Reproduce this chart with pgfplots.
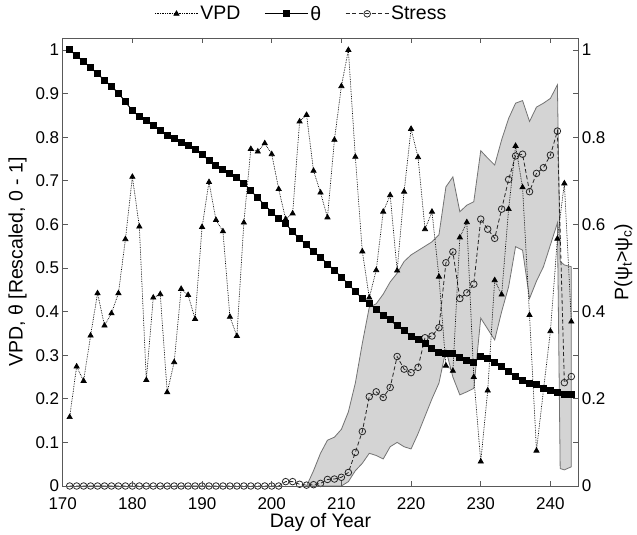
\documentclass[border=0pt]{standalone}
\usepackage{fontspec}
\setmainfont{Liberation Sans}
\usepackage{pgfplots}
\pgfplotsset{compat=1.18}

\pgfplotstableread{
day vpd theta
171 0.158 1.000
172 0.274 0.987
173 0.241 0.973
174 0.345 0.960
175 0.442 0.945
176 0.368 0.931
177 0.396 0.916
178 0.442 0.901
179 0.566 0.881
180 0.709 0.861
181 0.595 0.847
182 0.243 0.839
183 0.432 0.826
184 0.440 0.815
185 0.215 0.803
186 0.284 0.797
187 0.452 0.787
188 0.438 0.780
189 0.383 0.772
190 0.594 0.760
191 0.697 0.747
192 0.610 0.735
193 0.584 0.725
194 0.388 0.717
195 0.344 0.707
196 0.604 0.694
197 0.773 0.677
198 0.767 0.661
199 0.786 0.644
200 0.761 0.628
201 0.681 0.613
202 0.612 0.602
203 0.625 0.583
204 0.836 0.567
205 0.851 0.553
206 0.723 0.537
207 0.673 0.525
208 0.616 0.509
209 0.794 0.495
210 0.917 0.479
211 1.000 0.463
212 0.755 0.446
213 0.538 0.430
214 0.432 0.419
215 0.495 0.405
216 0.629 0.392
217 0.667 0.381
218 0.494 0.367
219 0.675 0.356
220 0.819 0.344
221 0.754 0.336
222 0.589 0.326
223 0.629 0.316
224 0.480 0.306
225 0.276 0.304
226 0.264 0.304
227 0.570 0.294
228 0.605 0.287
229 0.250 0.283
230 0.056 0.298
231 0.219 0.293
232 0.472 0.284
233 0.439 0.274
234 0.635 0.262
235 0.780 0.252
236 0.685 0.243
237 0.392 0.236
238 0.081 0.232
239 0.220 0.224
240 0.355 0.220
241 0.567 0.214
242 0.694 0.209
243 0.377 0.209
}\mainData

\pgfplotstableread{
day stress
171 0
172 0
173 0
174 0
175 0
176 0
177 0
178 0
179 0
180 0
181 0
182 0
183 0
184 0
185 0
186 0
187 0
188 0
189 0
190 0
191 0
192 0
193 0
194 0
195 0
196 0
197 0
198 0
199 0
200 0
201 0
202 0.010
203 0.010
204 0.004
205 0.002
206 0.003
207 0.006
208 0.015
209 0.016
210 0.020
211 0.031
212 0.077
213 0.125
214 0.205
215 0.216
216 0.203
217 0.226
218 0.297
219 0.268
220 0.260
221 0.272
222 0.340
223 0.344
224 0.363
225 0.512
226 0.537
227 0.430
228 0.443
229 0.463
230 0.612
231 0.589
232 0.568
233 0.635
234 0.703
235 0.757
236 0.761
237 0.675
238 0.717
239 0.730
240 0.759
241 0.814
242 0.237
243 0.251
}\stressData

\pgfplotstableread{
day val
205 0
206 0.035
207 0.075
208 0.105
209 0.112
210 0.130
211 0.170
212 0.236
213 0.327
214 0.410
215 0.418
216 0.440
217 0.468
218 0.488
219 0.515
220 0.530
221 0.540
222 0.550
223 0.560
224 0.576
225 0.686
226 0.709
227 0.629
228 0.644
229 0.652
230 0.769
231 0.752
232 0.736
233 0.794
234 0.843
235 0.878
236 0.884
237 0.836
238 0.869
239 0.878
240 0.889
241 0.920
241.4 0.515
242 0.507
243 0.503
243 0.044
242 0.037
241.4 0.040
241 0.603
240 0.553
239 0.503
238 0.470
237 0.430
236 0.541
235 0.549
234 0.457
233 0.400
232 0.335
231 0.360
230 0.385
229 0.224
228 0.216
227 0.209
226 0.250
225 0.312
224 0.236
223 0.200
222 0.160
221 0.120
220 0.085
219 0.090
218 0.100
217 0.090
216 0.062
215 0.070
214 0.075
213 0.052
212 0.035
211 0.010
210 0
}\bandData

\pgfplotsset{
  common/.style={
    at={(0,0)}, anchor=south west,
    scale only axis, width=515.6bp, height=448bp,
    xmin=170, xmax=244, ymin=0, ymax=1.0275,
    tick align=inside, major tick length=5bp,
    axis line style={black!65, line width=0.7bp},
    tick style={black!65, line width=0.7bp},
    /pgf/number format/assume math mode=true,
    ticklabel style={font=\fontsize{17bp}{20bp}\selectfont},
    yticklabel style={inner ysep=0.5bp},
    label style={font=\fontsize{19.5bp}{22bp}\selectfont},
  },
}

\begin{document}
\begin{tikzpicture}
\useasboundingbox (-62.7bp,-49bp) rectangle (574.3bp,486bp);
% right axis: band and stress
\begin{axis}[common,
  xtick=\empty,
  ytick={0,0.1,0.2,0.3,0.4,0.5,0.6,0.7,0.8,0.9,1},
  yticklabels={0,,0.2,,0.4,,0.6,,0.8,,1},
  ytick pos=right, yticklabel pos=right,
  ylabel={P(ψ\textsubscript{t}>ψ\textsubscript{c})},
  ylabel style={yshift=-2bp},
  legend columns=3,
  legend style={at={(0.5,1.054)}, anchor=center, xshift=-19bp, draw=none, fill=none,
    font=\fontsize{19.5bp}{22bp}\selectfont,
    /tikz/every even column/.append style={column sep=22bp}},
  legend image code/.code={\draw[mark repeat=2,mark phase=2,#1] plot coordinates {(0bp,0bp) (21.5bp,0bp) (43bp,0bp)};},
]
\addlegendimage{black, densely dotted, line width=0.7bp, mark=triangle*, mark size=3bp, mark options={solid, fill=black}}
\addlegendentry{VPD}
\addlegendimage{black, line width=1bp, mark=square*, mark size=3bp, mark options={solid}}
\addlegendentry{θ}
\addplot[fill=black!17, draw=black!55, line width=0.8bp, forget plot] table[x=day, y=val] {\bandData} -- cycle;
\addplot[black!85, dash pattern=on 4bp off 2.5bp, line width=0.8bp, mark=o, mark size=3.3bp, mark options={solid, black!85}] table[x=day, y=stress] {\stressData};
\addlegendentry{Stress}
\end{axis}
% left axis: VPD and theta
\begin{axis}[common,
  xtick={170,180,190,200,210,220,230,240},
  xtick pos=both, xticklabel pos=bottom,
  xticklabel style={inner ysep=0.5bp, yshift=-11bp},
  ytick={0,0.1,0.2,0.3,0.4,0.5,0.6,0.7,0.8,0.9,1},
  yticklabels={0,0.1,0.2,0.3,0.4,0.5,0.6,0.7,0.8,0.9,1},
  ytick pos=left,
  xlabel={Day of Year},
  xlabel style={at={(axis description cs:0.5,0)}, anchor=center, yshift=-36bp},
  ylabel={VPD, θ [Rescaled, 0 - 1]},
  ylabel style={yshift=2bp},
]
\addplot[black, densely dotted, line width=0.7bp, mark=triangle*, mark size=3bp, mark options={solid, fill=black}] table[x=day, y=vpd] {\mainData};
\addplot[black, line width=1bp, mark=square*, mark size=3bp, mark options={solid}] table[x=day, y=theta] {\mainData};
\end{axis}
\end{tikzpicture}
\end{document}
